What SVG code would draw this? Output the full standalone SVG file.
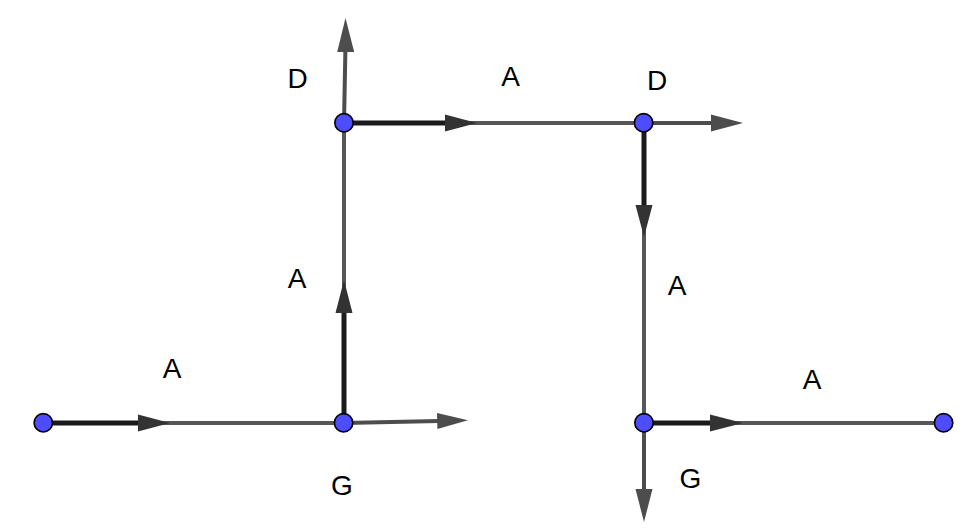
<svg xmlns="http://www.w3.org/2000/svg" width="976" height="532" viewBox="0 0 976 532">
<style>
.seg{stroke:#575757;stroke-width:4;fill:none}
.vec{stroke:#1a1a1a;stroke-width:5;fill:none}
.ray{stroke:#4d4d4d;stroke-width:4;fill:none}
.headk{fill:#333333}
.headg{fill:#4d4d4d}
.pt{fill:#4d4dff;stroke:#000;stroke-width:1.6}
text{font-family:"Liberation Sans",Arial,sans-serif;font-size:28px;fill:#000;text-anchor:middle}
</style>
<rect width="976" height="532" fill="#fff"/>
<g id="connectors">
<line class="seg" x1="43" y1="423" x2="344" y2="423"/>
<line class="seg" x1="344" y1="423" x2="344" y2="123"/>
<line class="seg" x1="344" y1="123" x2="644" y2="123"/>
<line class="seg" x1="644" y1="123" x2="644" y2="423"/>
<line class="seg" x1="644" y1="423" x2="944" y2="423"/>
<line class="vec" x1="43" y1="423" x2="140" y2="423"/>
<polygon class="headk" points="138,414.5 170,423 138,431.5"/>
<line class="vec" x1="344" y1="423" x2="344" y2="311"/>
<polygon class="headk" points="335.5,313 344,280 352.5,313"/>
<line class="vec" x1="344" y1="123" x2="447" y2="123"/>
<polygon class="headk" points="445,114.5 477,123 445,131.5"/>
<line class="vec" x1="644" y1="123" x2="644" y2="207"/>
<polygon class="headk" points="635.5,205 644,237 652.5,205"/>
<line class="vec" x1="644" y1="423" x2="712" y2="423"/>
<polygon class="headk" points="710,414.5 743,423 710,431.5"/>
<line class="ray" x1="344" y1="423" x2="439" y2="421"/>
<polygon class="headg" points="437,413 468,420.3 437.4,429"/>
<line class="ray" x1="344" y1="123" x2="345.4" y2="50"/>
<polygon class="headg" points="337.2,52 345.5,18 354.2,52"/>
<line class="ray" x1="644" y1="123" x2="713" y2="123"/>
<polygon class="headg" points="711,114.5 743,123 711,131.5"/>
<line class="ray" x1="644" y1="423" x2="644" y2="491"/>
<polygon class="headg" points="635.5,489 644,522 652.5,489"/>
</g>
<g id="p1"><circle class="pt" cx="43.3" cy="422.8" r="9.2"/></g>
<g id="p2"><circle class="pt" cx="343.6" cy="422.8" r="9.2"/></g>
<g id="p3"><circle class="pt" cx="344" cy="122.8" r="9.2"/></g>
<g id="p4"><circle class="pt" cx="643.6" cy="122.8" r="9.2"/></g>
<g id="p5"><circle class="pt" cx="644" cy="422.8" r="9.2"/></g>
<g id="p6"><circle class="pt" cx="943.6" cy="422.8" r="9.2"/></g>
<g id="labels">
<text x="172" y="378">A</text>
<text x="297" y="288">A</text>
<text x="297.5" y="88">D</text>
<text x="510.5" y="86">A</text>
<text x="657" y="90">D</text>
<text x="677" y="295">A</text>
<text x="812" y="389">A</text>
<text x="342" y="495">G</text>
<text x="690.5" y="488">G</text>
</g>
</svg>
